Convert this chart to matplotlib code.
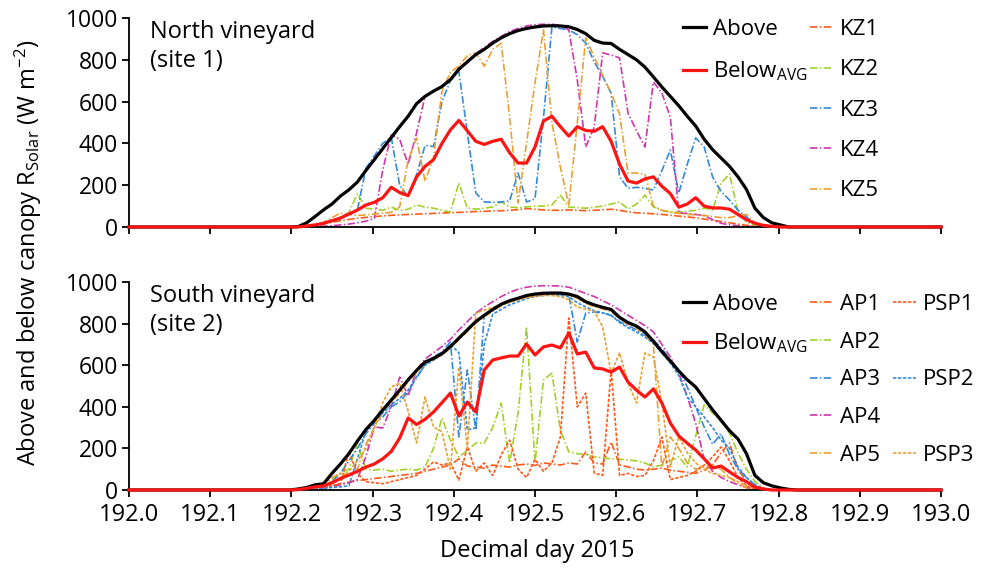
import numpy as np
import matplotlib.pyplot as plt
from matplotlib.lines import Line2D

plt.rcParams['font.family'] = ['Open Sans', 'DejaVu Sans']
plt.rcParams['mathtext.fontset'] = 'custom'
plt.rcParams['mathtext.rm'] = 'Open Sans'
plt.rcParams['mathtext.it'] = 'Open Sans'

# 15-min steps, readings start at step 20 (192.208); night values are 0
start_step = 20

# North vineyard (site 1)
north_above = [2, 20, 50, 82, 110, 148, 178, 215, 270, 322, 375, 428, 480, 530, 590,
               625, 650, 672, 705, 755, 790, 825, 850, 880, 905, 925, 940, 950, 957, 962,
               963, 962, 958, 945, 925, 893, 880, 878, 850, 825, 800, 765, 718, 670, 625,
               580, 530, 483, 420, 370, 330, 290, 240, 180, 90, 45, 20, 10, 0]
north_below = [0, 5, 10, 18, 30, 43, 62, 81, 105, 118, 140, 190, 165, 150, 240,
               290, 322, 400, 465, 510, 460, 410, 395, 410, 420, 355, 306, 306, 383, 507,
               530, 480, 435, 480, 462, 458, 480, 410, 300, 220, 210, 230, 240, 195, 160,
               95, 110, 140, 100, 91, 91, 85, 60, 35, 18, 8, 3, 0]
kz1 = [0, 3, 8, 15, 22, 30, 36, 42, 46, 50, 53, 56, 58, 60, 62, 63, 65, 67, 68, 70,
       72, 74, 75, 77, 78, 80, 83, 88, 85, 82, 80, 80, 82, 80, 78, 80, 82, 85, 80, 72,
       68, 66, 63, 60, 56, 52, 48, 44, 38, 32, 26, 20, 14, 8, 4, 2]
kz2 = [0, 3, 8, 15, 25, 40, 70, 160, 90, 85, 80, 95, 80, 85, 105, 95, 90, 80, 72, 211,
       91, 85, 90, 96, 120, 96, 92, 96, 100, 100, 105, 153, 95, 93, 90, 95, 100, 110, 120, 86,
       110, 153, 96, 80, 72, 72, 75, 80, 90, 81, 210, 254, 72, 24, 8, 2]
kz3 = [0, 3, 8, 15, 25, 40, 60, 80, 280, 340, 400, 430, 200, 144, 250, 390, 385, 600, 700, 745,
       450, 163, 120, 118, 120, 125, 258, 120, 134, 522, 957, 950, 943, 920, 880, 790, 720, 640, 240, 185,
       190, 185, 177, 270, 368, 163, 300, 426, 383, 239, 170, 129, 80, 48, 15, 3, 0]
kz4 = [0, 0, 2, 4, 6, 10, 14, 20, 28, 40, 273, 440, 420, 300, 450, 625, 650, 675, 708, 758,
       795, 830, 858, 888, 912, 935, 950, 962, 968, 970, 970, 965, 943, 703, 383, 478, 833, 823, 809, 545,
       460, 383, 694, 641, 526, 67, 65, 60, 55, 35, 18, 10, 6, 3, 1, 0]
kz5 = [0, 3, 10, 22, 45, 67, 60, 55, 58, 62, 66, 70, 96, 320, 425, 220, 330, 650, 740, 770,
       820, 833, 770, 850, 880, 526, 115, 402, 689, 943, 498, 287, 105, 498, 905, 813, 727, 641, 540, 258,
       258, 252, 100, 80, 70, 65, 60, 58, 55, 50, 45, 45, 55, 60, 20, 3, 0]

# South vineyard (site 2)
south_above = [5, 12, 25, 30, 80, 125, 175, 235, 290, 335, 385, 432, 480, 530, 575,
               615, 633, 655, 690, 730, 770, 810, 840, 868, 893, 910, 922, 935, 942, 946,
               947, 947, 942, 930, 905, 890, 878, 868, 830, 805, 788, 760, 715, 665, 620,
               572, 530, 495, 440, 385, 335, 285, 245, 175, 70, 35, 20, 10, 3, 0]
south_below = [2, 8, 15, 20, 35, 55, 72, 90, 110, 125, 150, 185, 250, 346, 315,
               340, 375, 420, 466, 356, 423, 375, 577, 625, 635, 644, 644, 702, 649, 688,
               697, 683, 755, 654, 663, 587, 582, 567, 591, 519, 480, 447, 486, 418, 322,
               260, 225, 192, 150, 106, 115, 87, 60, 40, 14, 5, 0]
ap1 = [0, 3, 8, 15, 22, 30, 38, 45, 50, 55, 60, 65, 70, 75, 80, 90, 100, 110, 120, 150,
       115, 110, 105, 120, 115, 110, 120, 125, 118, 130, 125, 120, 130, 125, 183, 130, 125, 231, 120, 111,
       100, 96, 100, 105, 95, 90, 85, 80, 95, 120, 180, 226, 100, 40, 10, 3, 0]
ap2 = [0, 5, 15, 30, 50, 80, 100, 226, 100, 96, 100, 90, 96, 100, 96, 110, 200, 346, 240, 159,
       190, 226, 226, 300, 418, 130, 370, 784, 130, 529, 562, 288, 183, 175, 170, 159, 155, 150, 148, 144,
       140, 130, 111, 120, 140, 159, 111, 260, 409, 370, 330, 274, 178, 100, 40, 8]
ap3 = [0, 5, 10, 18, 40, 80, 140, 200, 270, 320, 351, 400, 423, 471, 540, 600, 640, 663, 712, 255,
       577, 288, 841, 865, 890, 905, 918, 928, 935, 940, 942, 940, 938, 712, 851, 856, 850, 840, 810, 790,
       770, 745, 721, 680, 625, 580, 495, 399, 303, 220, 270, 170, 100, 60, 25, 8, 0]
ap4 = [0, 2, 5, 10, 15, 25, 35, 50, 160, 303, 298, 400, 543, 452, 577, 630, 660, 690, 725, 770,
       810, 850, 880, 905, 930, 950, 965, 975, 980, 982, 982, 980, 975, 960, 945, 930, 910, 890, 865, 840,
       815, 790, 760, 700, 640, 562, 450, 320, 150, 90, 60, 40, 25, 12, 4, 0]
ap5 = [0, 5, 15, 30, 60, 80, 70, 100, 220, 300, 370, 420, 465, 520, 565, 605, 625, 648, 682, 722,
       762, 802, 832, 860, 885, 902, 915, 928, 935, 940, 942, 940, 935, 922, 898, 882, 870, 858, 822, 795,
       778, 745, 700, 110, 255, 200, 130, 100, 110, 120, 100, 60, 30, 10, 3, 0, 0]
psp1 = [0, 2, 5, 10, 20, 30, 183, 80, 40, 35, 30, 40, 50, 60, 70, 100, 135, 120, 130, 48,
        207, 90, 130, 70, 168, 240, 100, 60, 147, 90, 130, 255, 827, 399, 466, 82, 70, 577, 70, 80,
        65, 70, 140, 255, 50, 60, 70, 90, 120, 160, 207, 140, 60, 20, 5, 0]
psp2 = [0, 2, 5, 8, 12, 15, 20, 150, 280, 330, 370, 410, 440, 480, 545, 600, 625, 655, 700, 660,
        288, 300, 700, 845, 868, 890, 905, 920, 930, 935, 940, 935, 930, 900, 880, 862, 852, 840, 805, 780,
        760, 735, 705, 660, 610, 550, 447, 400, 351, 300, 240, 200, 111, 60, 24, 5, 0]
psp3 = [0, 3, 10, 20, 40, 60, 90, 140, 200, 300, 420, 495, 514, 380, 226, 447, 303, 280, 100, 591,
        200, 851, 865, 878, 890, 905, 915, 925, 930, 935, 935, 930, 915, 880, 870, 860, 784, 562, 659, 514,
        418, 659, 640, 418, 111, 255, 180, 130, 100, 80, 70, 60, 40, 20, 8, 2, 0]

days = 192 + np.arange(97) / 96.0


def full_day(vals):
    out = np.zeros(len(days))
    out[start_step:start_step + len(vals)] = vals
    return out


c_or = '#FF5A1A'
c_gr = '#A3D02A'
c_bl = '#3389DA'
c_mg = '#D035AC'
c_go = '#E9A033'
dashdot = (4.5, 1.4, 0.9, 1.4)
dashed = (2.0, 1.0)

fig = plt.figure(figsize=(9.87, 5.71), dpi=100)
ax1 = fig.add_axes([129 / 987, 1 - 227 / 571, 812 / 987, 209 / 571])
ax2 = fig.add_axes([129 / 987, 1 - 490 / 571, 812 / 987, 208 / 571])

blank = Line2D([], [], linestyle='none')


def sensor(ax, vals, color, dashes, label):
    ln, = ax.plot(days, full_day(vals), color=color, lw=1.2, dashes=dashes, label=label)
    return ln


# top panel
kz_lines = [sensor(ax1, v, c, dashdot, 'KZ%d' % (i + 1))
            for i, (v, c) in enumerate(zip([kz1, kz2, kz3, kz4, kz5], [c_or, c_gr, c_bl, c_mg, c_go]))]
a1, = ax1.plot(days, full_day(north_above), color='black', lw=2.3, zorder=3, clip_on=False)
b1, = ax1.plot(days, full_day(north_below), color='#FF1414', lw=2.3, zorder=3, clip_on=False)

# bottom panel
ap_lines = [sensor(ax2, v, c, dashdot, 'AP%d' % (i + 1))
            for i, (v, c) in enumerate(zip([ap1, ap2, ap3, ap4, ap5], [c_or, c_gr, c_bl, c_mg, c_go]))]
psp_lines = [sensor(ax2, v, c, dashed, 'PSP%d' % (i + 1))
             for i, (v, c) in enumerate(zip([psp1, psp2, psp3], [c_or, c_bl, c_go]))]
a2, = ax2.plot(days, full_day(south_above), color='black', lw=2.3, zorder=3, clip_on=False)
b2, = ax2.plot(days, full_day(south_below), color='#FF1414', lw=2.3, zorder=3, clip_on=False)

below_lbl = 'Below$_{\\mathregular{AVG}}$'


def column(handles, labels, x, y, spacing):
    fig.legend(handles, labels, frameon=False, fontsize=16, handlelength=1.05,
               handletextpad=0.3, borderpad=0, borderaxespad=0, loc='upper left',
               labelspacing=spacing, bbox_to_anchor=(x / 987, 1 - y / 571),
               bbox_transform=fig.transFigure)


# legends, one per column
column([a1, b1], ['Above', below_lbl], 683, 19, 0.87)
column(kz_lines, ['KZ%d' % i for i in range(1, 6)], 810, 19, 0.87)
column([a2, b2], ['Above', below_lbl], 683, 294, 0.75)
column(ap_lines, ['AP%d' % i for i in range(1, 6)], 810, 294, 0.75)
column([psp_lines[0], blank, psp_lines[1], blank, psp_lines[2]],
       ['PSP1', ' ', 'PSP2', ' ', 'PSP3'], 893, 294, 0.75)

for ax, txt in [(ax1, 'North vineyard\n(site 1)'), (ax2, 'South vineyard\n(site 2)')]:
    ax.set_xlim(192.0, 193.0)
    ax.set_ylim(0, 1000)
    ax.set_yticks(np.arange(0, 1001, 200))
    ax.set_xticks(np.round(np.arange(192.0, 193.01, 0.1), 1))
    for s in ['top', 'right']:
        ax.spines[s].set_visible(False)
    for s in ['left', 'bottom']:
        ax.spines[s].set_linewidth(1.3)
    ax.tick_params(direction='out', length=5, width=1.3, labelsize=17, pad=3)
    ax.tick_params(axis='y', labelsize=16.5)
    ax.text(0.026, 0.99, txt, transform=ax.transAxes, fontsize=17, va='top', ha='left',
            linespacing=1.25)

ax1.tick_params(labelbottom=False)
ax2.tick_params(axis='x', pad=4.5)
ax2.set_xticklabels(['%.1f' % v for v in ax2.get_xticks()])

fig.text(28 / 987, 1 - 253 / 571,
         'Above and below canopy R$_{\\mathregular{Solar}}$ (W m$^{\\mathregular{-2}}$)',
         rotation=90, fontsize=17, ha='center', va='center')
fig.text(537 / 987, 1 - 551 / 571, 'Decimal day 2015', fontsize=17, ha='center', va='center')

fig.savefig('out.png', dpi=100)
